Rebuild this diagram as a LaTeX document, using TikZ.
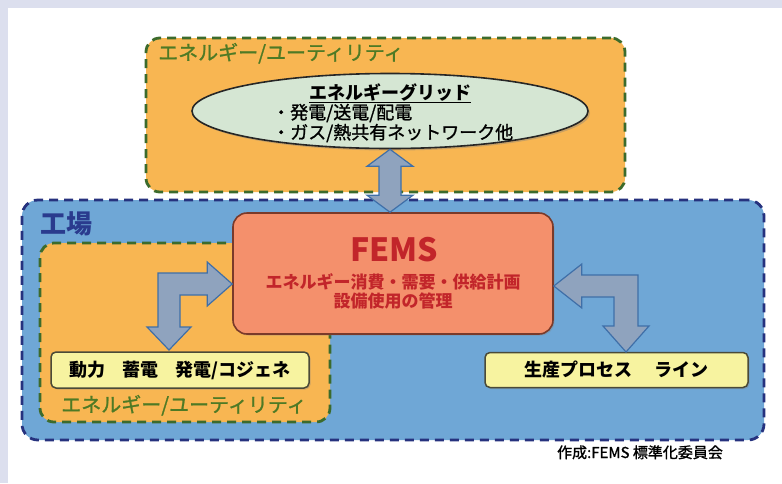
\documentclass[tikz,border=0pt]{standalone}
\usepackage{fontspec}
\setmainfont{Noto Sans CJK JP}
\newfontfamily\jpmed[FakeBold=1.2]{Noto Sans CJK JP}
\usetikzlibrary{shapes.geometric,shadows}
\definecolor{lav}{HTML}{DCDFEE}
\definecolor{orng}{HTML}{F8B652}
\definecolor{dkgreen}{HTML}{3C6B2C}
\definecolor{lblgreen}{HTML}{4E7A25}
\definecolor{fblue}{HTML}{6FA7D6}
\definecolor{navy}{HTML}{26327E}
\definecolor{kojo}{HTML}{2A3B8E}
\definecolor{ellfill}{HTML}{D5E6D3}
\definecolor{femsfill}{HTML}{F4906C}
\definecolor{femsline}{HTML}{7A3A2A}
\definecolor{femstext}{HTML}{C2252A}
\definecolor{ylw}{HTML}{F7F3A0}
\definecolor{ybord}{HTML}{4A4A38}
\definecolor{arrfill}{HTML}{8FA3BE}
\definecolor{arrline}{HTML}{3F6FA8}
\begin{document}
\begin{tikzpicture}[x=1pt,y=-1pt,
  utilbox/.style={draw=dkgreen, fill=orng, line width=2.8pt, dash pattern=on 9pt off 6pt, rounded corners=14pt, inner sep=0pt},
  factbox/.style={draw=navy, fill=fblue, line width=2.8pt, dash pattern=on 9pt off 6pt, rounded corners=16pt, inner sep=0pt},
  bigarrow/.style={fill=arrfill, draw=arrline, line width=1.2pt, line join=miter},
  ybox/.style={fill=ylw, draw=ybord, line width=1.5pt, rounded corners=5pt, inner sep=0pt,
     drop shadow={opacity=0.35, shadow xshift=1.5pt, shadow yshift=-1.5pt}},
  utiltext/.style={text=lblgreen, font=\fontsize{20}{22}\selectfont\jpmed, inner sep=0pt},
]
\fill[lav] (0,0) rectangle (782,483);
\fill[white] (8,8) rectangle (782,483);
\useasboundingbox (0,0) rectangle (782,483);

% containers
\node[utilbox, minimum width=479pt, minimum height=154pt] (util1) at (385.5,115) {};
\node[factbox, minimum width=742pt, minimum height=240pt] (factory) at (393,320) {};
\node[utilbox, minimum width=290pt, minimum height=179pt] (util2) at (185,332.5) {};

% labels
\node[utiltext, anchor=base west] (util1lbl) at (158,60) {エネルギー/ユーティリティ};
\node[utiltext, anchor=base] (util2lbl) at (184,412) {エネルギー/ユーティリティ};
\node[text=kojo, font=\fontsize{26}{28}\selectfont\bfseries, anchor=base west, inner sep=0pt] (kojo) at (40,233) {工場};

% energy grid ellipse
\node[ellipse, draw=black!85, line width=1.6pt, fill=ellfill, minimum width=396pt, minimum height=75pt,
      drop shadow={opacity=0.4, shadow xshift=2pt, shadow yshift=-2pt}] (grid) at (390,111) {};
\node[font=\fontsize{18}{20}\selectfont, inner sep=0pt, anchor=base] (gridtitle) at (390,99) {\bfseries\underline{エネルギーグリッド}};
\node[font=\fontsize{18}{20}\selectfont\jpmed, inner sep=0pt, anchor=base west, align=left] (gridtext) at (272,139) {・発電/送電/配電\\・ガス/熱共有ネットワーク他};

% FEMS
\node[draw=femsline, fill=femsfill, line width=1.6pt, rounded corners=14pt, minimum width=320pt, minimum height=121pt,
      drop shadow={opacity=0.35, shadow xshift=1.5pt, shadow yshift=-1.5pt}] (fems) at (393,273.5) {};
\node[text=femstext, font=\fontsize{32}{34}\selectfont\bfseries, inner sep=0pt, anchor=base] (femstitle) at (394,261) {FEMS};
\node[text=femstext, font=\fontsize{17}{19}\selectfont\bfseries, inner sep=0pt, anchor=base, align=center] (femssub) at (393,307) {エネルギー消費・需要・供給計画\\設備使用の管理};

% yellow boxes
\node[ybox, minimum width=258pt, minimum height=36pt, font=\fontsize{18}{20}\selectfont\bfseries] (power) at (180,370) {動力\hspace{17pt}蓄電\hspace{17pt}発電/コジェネ};
\node[ybox, minimum width=263pt, minimum height=35pt, font=\fontsize{18}{20}\selectfont\bfseries] (line) at (616.5,370) {生産プロセス\hspace{22pt}ライン};

% credit
\node[font=\fontsize{15}{17}\selectfont\jpmed, inner sep=0pt, anchor=base] (credit) at (640,458) {作成:FEMS 標準化委員会};

% arrows
\coordinate (vt) at (grid.south);
\coordinate (vb) at (fems.north -| grid.south);
\draw[bigarrow] (vt) -- ++(23,17) -- ++(-12,0) -- ([xshift=11pt,yshift=17pt]vb) -- ++(12,0) -- (vb)
  -- ([xshift=-23pt,yshift=17pt]vb) -- ++(12,0) -- ([xshift=-11pt,yshift=-17pt]vt) -- ++(-12,0) -- cycle;

\coordinate (lt) at (fems.west |- 0,284);
\coordinate (ld) at (169,350);
\draw[bigarrow] (lt) -- ++(-25,-22) -- ++(0,11) -- (158,273) -- (158,327) -- (147,327) -- (ld)
  -- (191,327) -- (180,327) -- (180,295) -- ([xshift=-25pt]lt |- 0,295) -- ++(0,11) -- cycle;

\coordinate (rt) at (fems.east |- 0,286);
\coordinate (rd) at (626,352);
\draw[bigarrow] (rt) -- ++(28,-22) -- ++(0,11) -- (638,275) -- (638,326) -- (649,326) -- (rd)
  -- (603,326) -- (614,326) -- (614,297) -- ([xshift=28pt]rt |- 0,297) -- ++(0,11) -- cycle;
\end{tikzpicture}
\end{document}
